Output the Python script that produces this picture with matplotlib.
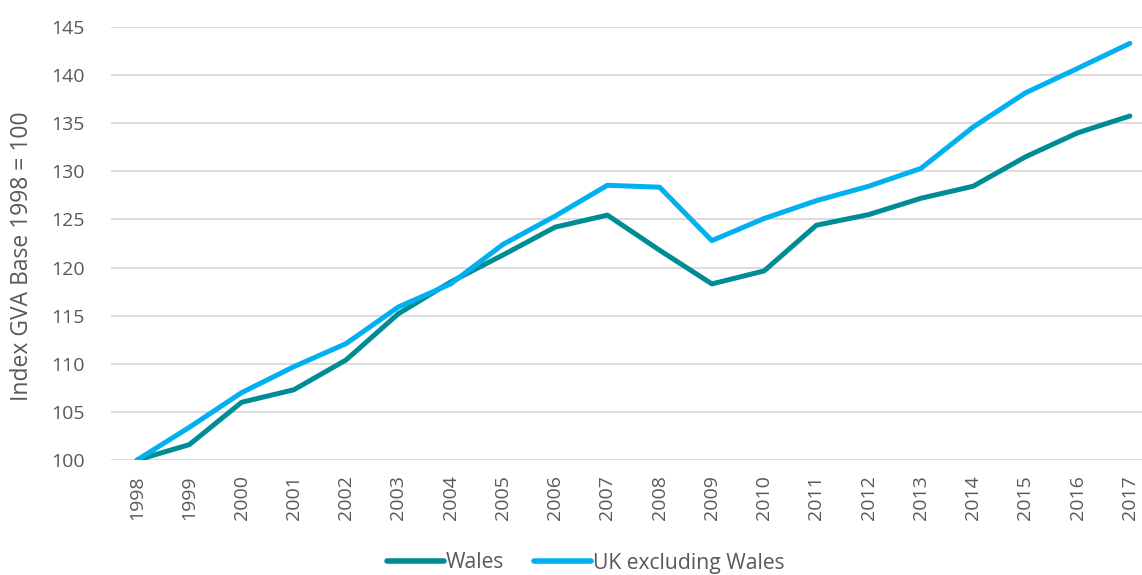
import matplotlib
matplotlib.use("Agg")
import matplotlib.pyplot as plt
from matplotlib.lines import Line2D

years = [str(y) for y in range(1998, 2018)]
wales = [100.0, 101.6, 106.0, 107.3, 110.4, 115.2, 118.5, 121.3, 124.2, 125.45,
         121.8, 118.3, 119.65, 124.4, 125.5, 127.2, 128.45, 131.5, 134.0, 135.75]
uk_ex_wales = [100.0, 103.4, 107.0, 109.7, 112.1, 115.9, 118.3, 122.4, 125.35, 128.55,
               128.35, 122.8, 125.1, 126.95, 128.45, 130.3, 134.6, 138.15, 140.7, 143.3]
yticks = list(range(100, 146, 5))

fam = ['Open Sans', 'DejaVu Sans']
plt.rcParams['font.family'] = fam

W, H = 1142, 575
fig = plt.figure(figsize=(W / 100, H / 100), dpi=100)
left, right = 111, 1156
top, bottom = 27, 460
ax = fig.add_axes([left / W, 1 - bottom / H, (right - left) / W, (bottom - top) / H])

x = list(range(len(years)))
ax.plot(x, wales, color='#008C95', lw=3.6, solid_capstyle='round', solid_joinstyle='round', label='Wales', zorder=3)
ax.plot(x, uk_ex_wales, color='#00B0F0', lw=3.6, solid_capstyle='round', solid_joinstyle='round', label='UK excluding Wales', zorder=3)

ax.set_xlim(-0.5, len(years) - 0.5)
ax.set_ylim(100, 145)
ax.set_yticks(yticks)
ax.set_xticks(x)
ax.set_xticklabels(years, rotation=90)
ax.grid(axis='y', color='#D9D9D9', lw=1.3)
ax.set_axisbelow(True)
for s in ax.spines.values():
    s.set_visible(False)
ax.tick_params(axis='both', length=0, labelsize=14, colors='#595959')
ax.tick_params(axis='y', pad=19)
ax.tick_params(axis='x', pad=11)
ax.set_ylabel('Index GVA Base 1998 = 100', fontsize=16.5, color='#595959',
              va='center', ha='center')
ax.yaxis.set_label_coords((22 - left) / (right - left), (bottom - 256) / (bottom - top))

handles = [Line2D([0], [0], color='#008C95', lw=4, solid_capstyle='round'),
           Line2D([0], [0], color='#00B0F0', lw=4, solid_capstyle='round')]
fig.legend(handles, ['Wales', 'UK excluding Wales'], loc='center', bbox_to_anchor=(0.513, 1 - 563 / H),
           ncol=2, frameon=False, fontsize=15.2, handlelength=2.7, handletextpad=0.1, columnspacing=1.4,
           labelcolor='#595959')

fig.savefig('out.png', dpi=100)
